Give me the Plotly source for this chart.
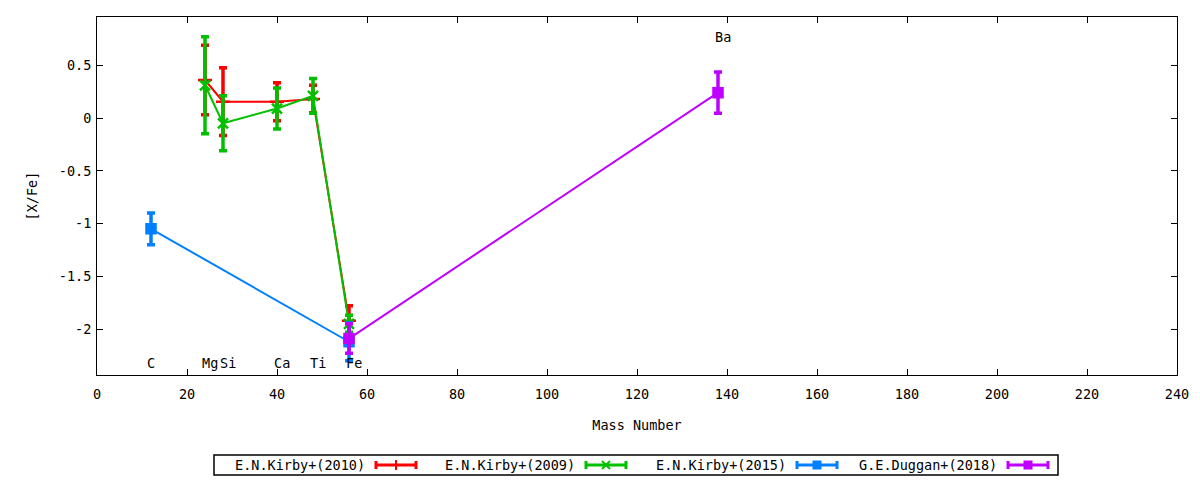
import plotly.graph_objects as go

# ---- data ----
series_names = ["E.N.Kirby+(2010)", "E.N.Kirby+(2009)", "E.N.Kirby+(2015)", "G.E.Duggan+(2018)"]
series_colors = ["#ff0000", "#00c000", "#0080ff", "#c000ff"]

kirby2010_mass = [24, 28, 40, 48, 56]
kirby2010_xfe = [0.36, 0.155, 0.155, 0.18, -1.92]
kirby2010_err = [0.33, 0.32, 0.18, 0.13, 0.14]

kirby2009_mass = [24, 28, 40, 48, 56]
kirby2009_xfe = [0.31, -0.05, 0.09, 0.21, -1.95]
kirby2009_err = [0.46, 0.26, 0.195, 0.165, 0.08]

kirby2015_mass = [12, 56]
kirby2015_xfe = [-1.05, -2.12]
kirby2015_err = [0.15, 0.18]

duggan2018_mass = [56, 138]
duggan2018_xfe = [-2.09, 0.24]
duggan2018_err = [0.14, 0.195]

element_names = ["C", "Mg", "Si", "Ca", "Ti", "Fe", "Ba"]
element_label_x = [12, 25.1, 29.0, 41.1, 49.2, 57.0, 139.1]
element_label_y = [-2.32, -2.32, -2.32, -2.32, -2.32, -2.32, 0.764]

xtick_vals = list(range(0, 241, 20))
ytick_vals = [0.5, 0, -0.5, -1, -1.5, -2]
ytick_text = ["0.5", "0", "-0.5", "-1", "-1.5", "-2"]

FONT = "DejaVu Sans Mono"
FS = 13.5

fig = go.Figure()

symbols = ["cross-thin-open", "x-thin-open", "square", "square"]
msizes = [10, 10, 9, 9]
all_data = [
    (kirby2010_mass, kirby2010_xfe, kirby2010_err),
    (kirby2009_mass, kirby2009_xfe, kirby2009_err),
    (kirby2015_mass, kirby2015_xfe, kirby2015_err),
    (duggan2018_mass, duggan2018_xfe, duggan2018_err),
]
for name, col, sym, ms, (xs, ys, es) in zip(series_names, series_colors, symbols, msizes, all_data):
    fig.add_trace(go.Scatter(
        x=xs, y=ys, name=name, mode="lines+markers",
        line=dict(color=col, width=2),
        marker=dict(symbol=sym, size=ms, color=col, line=dict(color=col, width=2.5)),
        error_y=dict(type="data", array=es, visible=True, color=col, thickness=3.5, width=4),
        showlegend=False,
    ))

for nm, ex, ey in zip(element_names, element_label_x, element_label_y):
    fig.add_annotation(x=ex, y=ey, text=nm, showarrow=False, xref="x", yref="y",
                       font=dict(family=FONT, size=FS, color="black"))

# ---- manual gnuplot-style legend ----
L, T, W, H = 97, 17, 1080, 358
def px(x):
    return (x - L) / W
def py(y):
    return (T + H - y) / H

shapes = []
shapes.append(dict(type="rect", xref="paper", yref="paper",
                   x0=px(214), x1=px(1058), y0=py(455), y1=py(475),
                   line=dict(color="black", width=1.5), fillcolor="rgba(0,0,0,0)"))
sample_starts = [375, 585, 796, 1007]
cy = 465
for i, (name, col) in enumerate(zip(series_names, series_colors)):
    s0 = sample_starts[i]
    s1 = s0 + 42
    mid = (s0 + s1) / 2
    shapes.append(dict(type="line", xref="paper", yref="paper", x0=px(s0), x1=px(s1),
                       y0=py(cy), y1=py(cy), line=dict(color=col, width=3)))
    for sx in (s0 + 1, s1 - 1):
        shapes.append(dict(type="line", xref="paper", yref="paper", x0=px(sx), x1=px(sx),
                           y0=py(cy - 4), y1=py(cy + 4), line=dict(color=col, width=3)))
    if i == 0:
        shapes.append(dict(type="line", xref="paper", yref="paper", x0=px(mid), x1=px(mid),
                           y0=py(cy - 5), y1=py(cy + 5), line=dict(color=col, width=2)))
    elif i == 1:
        shapes.append(dict(type="line", xref="paper", yref="paper", x0=px(mid - 4), x1=px(mid + 4),
                           y0=py(cy - 4), y1=py(cy + 4), line=dict(color=col, width=2)))
        shapes.append(dict(type="line", xref="paper", yref="paper", x0=px(mid - 4), x1=px(mid + 4),
                           y0=py(cy + 4), y1=py(cy - 4), line=dict(color=col, width=2)))
    else:
        shapes.append(dict(type="rect", xref="paper", yref="paper", x0=px(mid - 4.5), x1=px(mid + 4.5),
                           y0=py(cy - 4.5), y1=py(cy + 4.5), line=dict(color=col, width=0), fillcolor=col))
    fig.add_annotation(x=px(s0 - 8), y=py(cy), xref="paper", yref="paper", text=name,
                       showarrow=False, xanchor="right", yanchor="middle",
                       font=dict(family=FONT, size=FS, color="black"))

fig.update_layout(
    width=1200, height=480,
    margin=dict(l=97, r=23, t=17, b=105),
    plot_bgcolor="white", paper_bgcolor="white",
    font=dict(family=FONT, size=FS, color="black"),
    shapes=shapes,
    showlegend=False,
)
fig.update_xaxes(
    range=[0, 240], tickvals=xtick_vals, ticks="inside", ticklen=6, tickwidth=1,
    tickcolor="black", showline=True, linecolor="black", linewidth=1, mirror="ticks",
    showgrid=False, zeroline=False, ticklabelstandoff=7,
    title=dict(text="Mass Number", font=dict(family=FONT, size=FS), standoff=19),
    tickfont=dict(family=FONT, size=FS),
)
fig.update_yaxes(
    range=[-2.435, 0.957], tickvals=ytick_vals, ticktext=ytick_text, ticks="inside", ticklen=6,
    tickwidth=1, tickcolor="black", showline=True, linecolor="black", linewidth=1, mirror="ticks",
    showgrid=False, zeroline=False, ticklabelstandoff=2,
    title=dict(text="[X/Fe]", font=dict(family=FONT, size=FS), standoff=18),
    tickfont=dict(family=FONT, size=FS),
)

fig.write_html("out.html", config={"displayModeBar": False},
               post_script="document.body.style.margin='0';document.body.style.overflow='hidden';")
